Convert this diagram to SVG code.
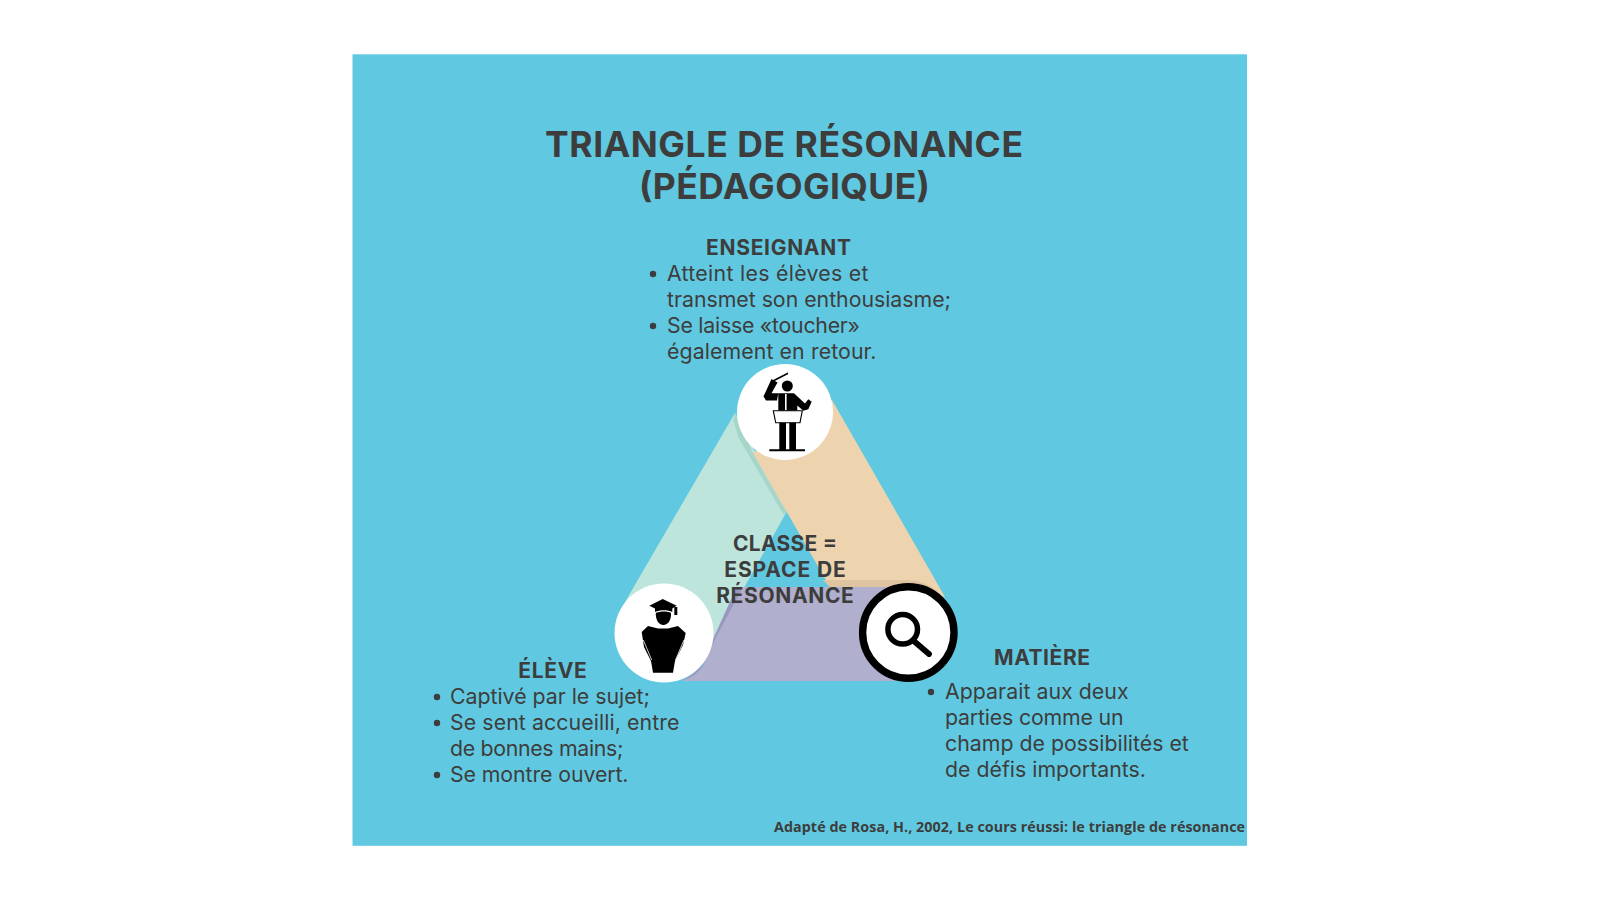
<svg xmlns="http://www.w3.org/2000/svg" width="1600" height="900" viewBox="0 0 1600 900">
<style>
text{font-family:"Inter","Liberation Sans",sans-serif;fill:#3d3d3d}
.t{font-size:35.500px;font-weight:700;text-anchor:middle}
.h{font-size:21px;font-weight:700;text-anchor:middle}
.b{font-size:21.300px;font-weight:400}
.f{font-family:"Open Sans","Liberation Sans",sans-serif;font-size:14.300px;font-weight:700;text-anchor:end}
.k{fill:#000}
.w{fill:#fff}
.d{fill:#3d3d3d}
</style>
<rect x="0" y="0" width="1600" height="900" fill="#fff"/>
<rect x="352.500" y="54.300" width="894.500" height="791.500" fill="#60c9e1"/>
<g id="connectors">
<path d="M735 413L625 602L664 633L712 645L786.700 511.700Z" fill="#bde5dc"/>
<path d="M786.700 511.700L753 453L735 413L733.300 420L738.300 437.300L782.700 513.300L784.700 515Z" fill="#a8d5ca"/>
<path d="M832 400L945 597L925 590L830 587.300L753 453Z" fill="#eed4ae"/>
<path d="M823 580L905 580C925 580 938 588 948 604L925 600L830 587.300Z" fill="#dfc4a2"/>
<path d="M743.300 587L900 587L910 681L682 681L703 667L715 637Z" fill="#b0afcd"/>
<path d="M743.300 587L736.700 587L711.700 642C706 658 698 676 680 681C694 679 703 668 708 655L716 637Z" fill="#9997bf"/>
</g>
<g id="title"><text class="t" x="784" y="157" textLength="478">TRIANGLE DE RÉSONANCE</text><text class="t" x="784.500" y="199" textLength="291">(PÉDAGOGIQUE)</text></g>
<g id="enseignant">
<circle class="w" cx="785" cy="412" r="48"/>
<path d="M773 381L788 373.300" stroke="#000" stroke-width="1.600" fill="none"/>
<circle class="k" cx="787.300" cy="386" r="5.500"/>
<path class="k" d="M771.500 379L777.500 382.500L771.500 393.300H778.300V410.700H797.300V405.500L803.300 410.700L808.300 409.300L811.700 401.700L808.300 399.300L805 403.500L794 393.300H778.300L777 400.500H766L763.500 396.500Z"/>
<path d="M785.800 394V410.500" stroke="#fff" stroke-width="1.600" fill="none"/>
<path d="M773.300 410.700H802.300L800 422.700H775.700Z" fill="#fff" stroke="#000" stroke-width="1.100"/>
<path class="k" d="M779.300 422.700H786V449.300H779.300ZM789.300 422.700H796V449.300H789.300ZM769.300 449.300H805V451.300H769.300Z"/>
<text class="h" x="778.500" y="255" textLength="145">ENSEIGNANT</text>
<circle class="d" cx="653" cy="274" r="3.200"/><circle class="d" cx="653" cy="326" r="3.200"/>
<text class="b" x="667" y="281" textLength="201.500">Atteint les élèves et</text>
<text class="b" x="667" y="307" textLength="284">transmet son enthousiasme;</text>
<text class="b" x="667" y="332.500" textLength="193">Se laisse «toucher»</text>
<text class="b" x="667" y="358.500" textLength="209.500">également en retour.</text>
</g>
<g id="eleve">
<circle class="w" cx="664" cy="633" r="49.500"/>
<path class="k" d="M662.700 599L649.300 605.700L655 608.500V612C660 609.500 668 609.500 672.300 612V608.500L676.700 605.700Z"/>
<path class="k" d="M655.800 613C660 611 668 611 671 613C671.500 620 668 625 663.300 625C658.800 625 655.500 620 655.800 613Z"/>
<path class="k" d="M674.300 607H677.300V615H674.300Z"/>
<path class="k" d="M641.700 632L648 626L658 628.500H668L678 626L685.700 633L683 645L675 661L673 672.700H653L651 661L644 647Z"/>
<path d="M643.300 640L651.700 660M684 640L675.500 660" stroke="#fff" stroke-width=".8" fill="none"/>
<text class="h" x="552.500" y="678" textLength="68.500">ÉLÈVE</text>
<circle class="d" cx="437" cy="697" r="3.200"/><circle class="d" cx="437" cy="723" r="3.200"/><circle class="d" cx="437" cy="775" r="3.200"/>
<text class="b" x="450" y="704" textLength="200">Captivé par le sujet;</text>
<text class="b" x="450" y="730" textLength="229.500">Se sent accueilli, entre</text>
<text class="b" x="450" y="756" textLength="173.400">de bonnes mains;</text>
<text class="b" x="450" y="782" textLength="178.500">Se montre ouvert.</text>
</g>
<g id="matiere">
<circle class="w" cx="908.300" cy="632.500" r="45.700" stroke="#000" stroke-width="7.400"/>
<circle cx="902.700" cy="629.300" r="14.800" fill="none" stroke="#000" stroke-width="5.500"/>
<path d="M915 642L929 654" stroke="#000" stroke-width="5.800" stroke-linecap="round" fill="none"/>
<text class="h" x="1042" y="665" textLength="96">MATIÈRE</text>
<circle class="d" cx="931" cy="692" r="3.200"/>
<text class="b" x="945" y="699" textLength="183.600">Apparait aux deux</text>
<text class="b" x="945" y="725" textLength="178.500">parties comme un</text>
<text class="b" x="945" y="751" textLength="243.800">champ de possibilités et</text>
<text class="b" x="945" y="777" textLength="201">de défis importants.</text>
</g>
<g id="classe"><text class="h" x="785" y="550.500" textLength="104">CLASSE =</text><text class="h" x="785" y="576.500" textLength="121.500">ESPACE DE</text><text class="h" x="785" y="602.500" textLength="137.700">RÉSONANCE</text></g>
<text class="f" x="1245" y="832" textLength="471">Adapté de Rosa, H., 2002, Le cours réussi: le triangle de résonance</text>
</svg>
